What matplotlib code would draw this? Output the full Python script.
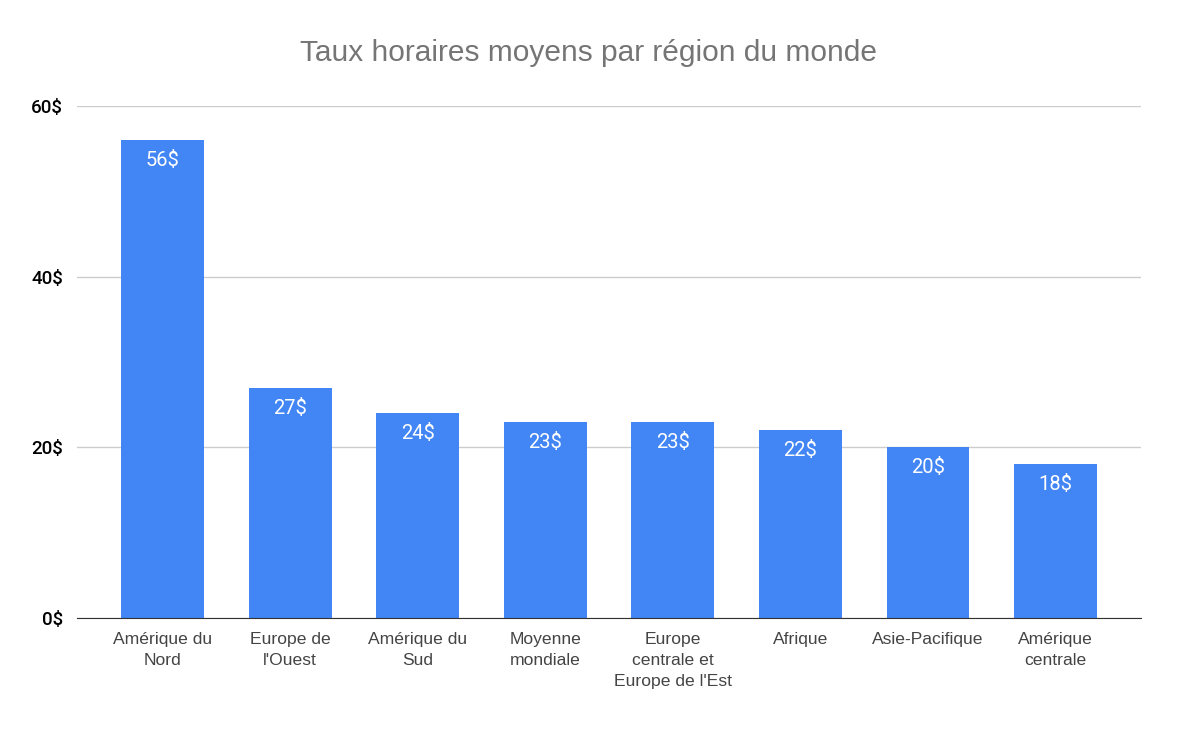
import matplotlib.pyplot as plt

regions = ["Amérique du\nNord", "Europe de\nl'Ouest", "Amérique du\nSud", "Moyenne\nmondiale",
           "Europe\ncentrale et\nEurope de l'Est", "Afrique", "Asie-Pacifique", "Amérique\ncentrale"]
rates = [56, 27, 24, 23, 23, 22, 20, 18]
yticks = [0, 20, 40, 60]

fig = plt.figure(figsize=(11.78, 7.29), dpi=100)
ax = fig.add_axes([0.0654, 0.1523, 0.9032, 0.7023])

x = list(range(len(regions)))
bars = ax.bar(x, rates, width=0.65, color='#4285F4', zorder=3)

for b, v in zip(bars, rates):
    ax.text(b.get_x() + b.get_width() / 2, v - 1.3, f"{v}$", ha='center', va='top',
            color='white', fontsize=14.5, family='Roboto', zorder=4)

ax.set_xlim(-0.67, 7.67)
ax.set_ylim(0, 60)
ax.set_yticks(yticks)
ax.set_yticklabels([f"{t}$" for t in yticks], family='Roboto', fontsize=13.5,
                   fontweight='medium', color='black')
ax.set_xticks(x)
ax.set_xticklabels(regions, family='Liberation Sans', fontsize=12.6, color='#444444', linespacing=1.5)
ax.tick_params(axis='both', length=0)
ax.tick_params(axis='y', pad=10)
ax.tick_params(axis='x', pad=10)
ax.grid(axis='y', color='#cccccc', linewidth=1, zorder=0)
for s in ['top', 'right', 'left']:
    ax.spines[s].set_visible(False)
ax.spines['bottom'].set_color('#333333')
ax.spines['bottom'].set_zorder(5)

fig.text(0.5, 1 - 53 / 729, "Taux horaires moyens par région du monde", ha='center', va='center',
         family='Liberation Sans', fontsize=21.5, color='#757575')

fig.savefig('out.png', dpi=100)
